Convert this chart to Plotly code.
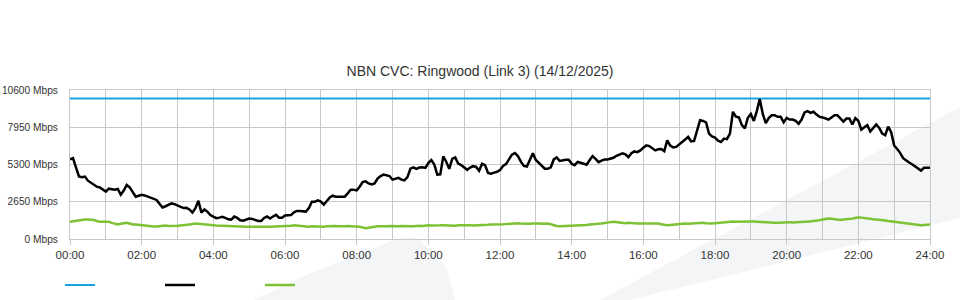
import plotly.graph_objects as go

# ---------------- data ----------------
title_text = "NBN CVC: Ringwood (Link 3) (14/12/2025)"

# sample times: every 5 minutes across the day (minutes since midnight)
sample_minutes = list(range(0, 24 * 60 + 1, 5))

capacity_minutes = [0, 1440]
capacity_mbps = [10000, 10000]

traffic_in_mbps = [
    5660, 5750, 5100, 4450, 4390, 4440, 4150, 4020, 3850, 3720,
    3670, 3520, 3370, 3580, 3560, 3510, 3560, 3150, 3450, 3840,
    3670, 3300, 3010, 3080, 3150, 3100, 3030, 2960, 2900, 2780,
    2500, 2240, 2330, 2430, 2530, 2480, 2400, 2330, 2200, 2220,
    2100, 1880, 2200, 2720, 1880, 2100, 1950, 1700, 1600, 1480,
    1520, 1580, 1500, 1400, 1380, 1600, 1500, 1330, 1300, 1360,
    1450, 1430, 1360, 1280, 1280, 1500, 1600, 1460, 1600, 1720,
    1520, 1520, 1680, 1680, 1700, 1900, 2000, 2000, 2000, 1950,
    2200, 2650, 2650, 2750, 2660, 2450, 2700, 2950, 3080, 3010,
    3010, 3010, 3010, 3250, 3500, 3500, 3460, 3720, 4050, 4100,
    3950, 3880, 3950, 4300, 4480, 4580, 4550, 4480, 4220, 4300,
    4350, 4220, 4170, 4400, 5000, 5100, 4990, 5080, 5100, 5060,
    5400, 5620, 5300, 4580, 4600, 5870, 5500, 4990, 5700, 5800,
    5360, 5260, 5100, 4920, 5080, 5180, 5130, 4850, 5350, 5250,
    4700, 4650, 4720, 4780, 4900, 5200, 5330, 5650, 6000, 6110,
    5900, 5500, 5200, 5160, 5700, 6100, 5620, 5400, 5250, 5000,
    4990, 5100, 5660, 5800, 5550, 5600, 5640, 5640, 5350, 5250,
    5480, 5420, 5330, 5280, 5600, 5900, 5700, 5470, 5580, 5650,
    5660, 5700, 5780, 5920, 6030, 6100, 6030, 5820, 6100, 6230,
    6180, 6300, 6500, 6660, 6610, 6450, 6300, 6380, 6400, 6250,
    7020, 6650, 6520, 6550, 6750, 6900, 7080, 7260, 6950, 6980,
    7700, 8450, 8400, 8300, 7500, 7300, 7210, 7000, 6900, 7140,
    7100, 7500, 9050, 8700, 8650, 8100, 7860, 8620, 8900, 8400,
    9100, 9950, 8900, 8250, 8600, 8810, 8810, 8690, 8690, 8300,
    8620, 8500, 8500, 8400, 8200, 8500, 9000, 9100, 8980, 9050,
    8850, 8690, 8650, 8600, 8500, 8650, 8810, 8810, 8600, 8350,
    8570, 8570, 8150, 8600, 8400, 7780, 7950, 8100, 7650, 7900,
    8150, 7900, 7500, 7380, 8000, 7600, 6650, 6400, 6130, 5750,
    5580, 5440, 5320, 5170, 5000, 4870, 5060, 5060, 5060,
]

traffic_out_mbps = [
    1220, 1250, 1300, 1350, 1390, 1390, 1390, 1390, 1350, 1280, 1220,
    1220, 1220, 1220, 1150, 1080, 1030, 1080, 1120, 1150, 1100,
    1030, 1030, 1000, 980, 980, 950, 920, 890, 890, 920,
    960, 960, 930, 920, 920, 940, 960, 1000, 1000, 1030,
    1060, 1100, 1080, 1050, 1020, 1000, 980, 980, 960, 950,
    930, 900, 880, 870, 870, 870, 870, 870, 870, 880,
    870, 870, 870, 880, 870, 870, 870, 880, 870, 870,
    880, 900, 920, 950, 980, 960, 930, 900, 880, 870,
    900, 880, 870, 880, 870, 900, 920, 900, 920, 900,
    880, 900, 920, 920, 900, 920, 880, 820, 760, 800,
    850, 880, 900, 900, 880, 900, 920, 900, 880, 900,
    920, 900, 920, 900, 900, 930, 950, 930, 960, 980,
    960, 980, 950, 970, 980, 960, 980, 960, 950, 970,
    980, 960, 950, 970, 960, 960, 980, 1000, 1000, 1010,
    1030, 1030, 1000, 1030, 1050, 1060, 1080, 1080, 1100, 1120,
    1100, 1080, 1100, 1080, 1100, 1120, 1100, 1080, 1100, 1100,
    1050, 980, 920, 900, 910, 920, 920, 930, 920, 940,
    960, 980, 1000, 1030, 1030, 1050, 1080, 1100, 1150, 1170,
    1200, 1220, 1200, 1150, 1120, 1130, 1150, 1120, 1100, 1100,
    1100, 1100, 1120, 1100, 1080, 1100, 1100, 1050, 1000, 980,
    1000, 1030, 1060, 1080, 1100, 1100, 1080, 1100, 1100, 1120,
    1150, 1150, 1120, 1100, 1100, 1120, 1150, 1180, 1200, 1230,
    1270, 1250, 1230, 1240, 1250, 1270, 1260, 1250, 1240, 1220,
    1200, 1190, 1180, 1170, 1160, 1150, 1150, 1170, 1180, 1200,
    1200, 1180, 1200, 1220, 1230, 1220, 1220, 1240, 1280, 1320,
    1340, 1380, 1420, 1460, 1440, 1400, 1380, 1360, 1380, 1390,
    1400, 1450, 1500, 1550, 1520, 1480, 1450, 1420, 1400, 1390,
    1380, 1350, 1320, 1280, 1250, 1220, 1200, 1150, 1120, 1100,
    1080, 1050, 1000, 980, 980, 1000, 1030, 1030,
]

x_tick_minutes = [0, 120, 240, 360, 480, 600, 720, 840, 960, 1080, 1200, 1320, 1440]
x_tick_labels = ["00:00", "02:00", "04:00", "06:00", "08:00", "10:00", "12:00",
                 "14:00", "16:00", "18:00", "20:00", "22:00", "24:00"]
y_tick_values = [0, 2650, 5300, 7950, 10600]
y_tick_labels = ["0 Mbps", "2650 Mbps", "5300 Mbps", "7950 Mbps", "10600 Mbps"]

# ---------------- style ----------------
BLUE = "#1ba3e1"
BLACK = "#000000"
GREEN = "#7cc234"
GRID = "#c8c8c8"
TEXT = "#333333"
WATERMARK = "#f4f5f7"
FONT = "Liberation Sans, Arial, sans-serif"

W, H = 960, 300
ML, MR, MT, MB = 70, 30, 90, 61
PW, PH = W - ML - MR, H - MT - MB


def px(xp, yp):
    """pixel -> paper coords for background decoration"""
    return (xp - ML) / PW, (H - MB - yp) / PH


def path(points):
    pts = [px(a, b) for a, b in points]
    return "M " + " L ".join(f"{a:.4f},{b:.4f}" for a, b in pts) + " Z"


fig = go.Figure()

fig.add_trace(go.Scatter(
    x=capacity_minutes, y=capacity_mbps, mode="lines", name="",
    line=dict(color=BLUE, width=2), hoverinfo="skip"))
fig.add_trace(go.Scatter(
    x=sample_minutes, y=traffic_in_mbps, mode="lines", name="",
    line=dict(color=BLACK, width=2.5)))
fig.add_trace(go.Scatter(
    x=sample_minutes, y=traffic_out_mbps, mode="lines", name="",
    line=dict(color=GREEN, width=2.5)))

shapes = [
    dict(type="path", xref="paper", yref="paper", layer="below",
         path=path([(600, 300), (960, 107), (960, 218), (630, 300)]),
         fillcolor=WATERMARK, line=dict(width=0)),
    dict(type="path", xref="paper", yref="paper", layer="below",
         path=path([(254, 300), (300, 278), (350, 257), (395, 240), (410, 237),
                    (420, 240), (445, 265), (451, 285), (455, 300)]),
         fillcolor=WATERMARK, line=dict(width=0)),
]

fig.update_layout(
    width=W, height=H,
    margin=dict(l=ML, r=MR, t=MT, b=MB, pad=0, autoexpand=False),
    paper_bgcolor="white", plot_bgcolor="rgba(0,0,0,0)",
    font=dict(family=FONT, size=11, color=TEXT),
    title=dict(text=title_text, x=0.5, xanchor="center", y=1 - 71 / H,
               yanchor="middle", yref="container",
               font=dict(family=FONT, size=14, color=TEXT)),
    showlegend=True,
    legend=dict(orientation="h", x=(60 - ML) / PW, xanchor="left",
                y=(H - MB - 285) / PH, yanchor="middle",
                entrywidth=55, entrywidthmode="pixels",
                bgcolor="rgba(0,0,0,0)", borderwidth=0,
                font=dict(size=11, color=TEXT)),
    shapes=shapes,
    hovermode=False,
)

fig.update_xaxes(
    range=[0, 1440], tickmode="array", tickvals=x_tick_minutes, ticktext=x_tick_labels,
    showgrid=True, gridcolor=GRID, gridwidth=1,
    minor=dict(dtick=60, tick0=0, showgrid=True, gridcolor=GRID, gridwidth=1),
    ticks="outside", ticklen=5, tickcolor=GRID, tickwidth=1,
    showline=True, linecolor=GRID, linewidth=1, mirror=True,
    zeroline=False, tickfont=dict(size=11.5, color=TEXT),
    automargin=False, fixedrange=True,
)
fig.update_yaxes(
    range=[0, 10600], tickmode="array", tickvals=y_tick_values, ticktext=y_tick_labels,
    showgrid=True, gridcolor=GRID, gridwidth=1,
    showline=True, linecolor=GRID, linewidth=1, mirror=True,
    zeroline=False, ticks="", ticklabelstandoff=9,
    tickfont=dict(size=10.2, color=TEXT), automargin=False, fixedrange=True,
)

fig.write_html("out.html")
